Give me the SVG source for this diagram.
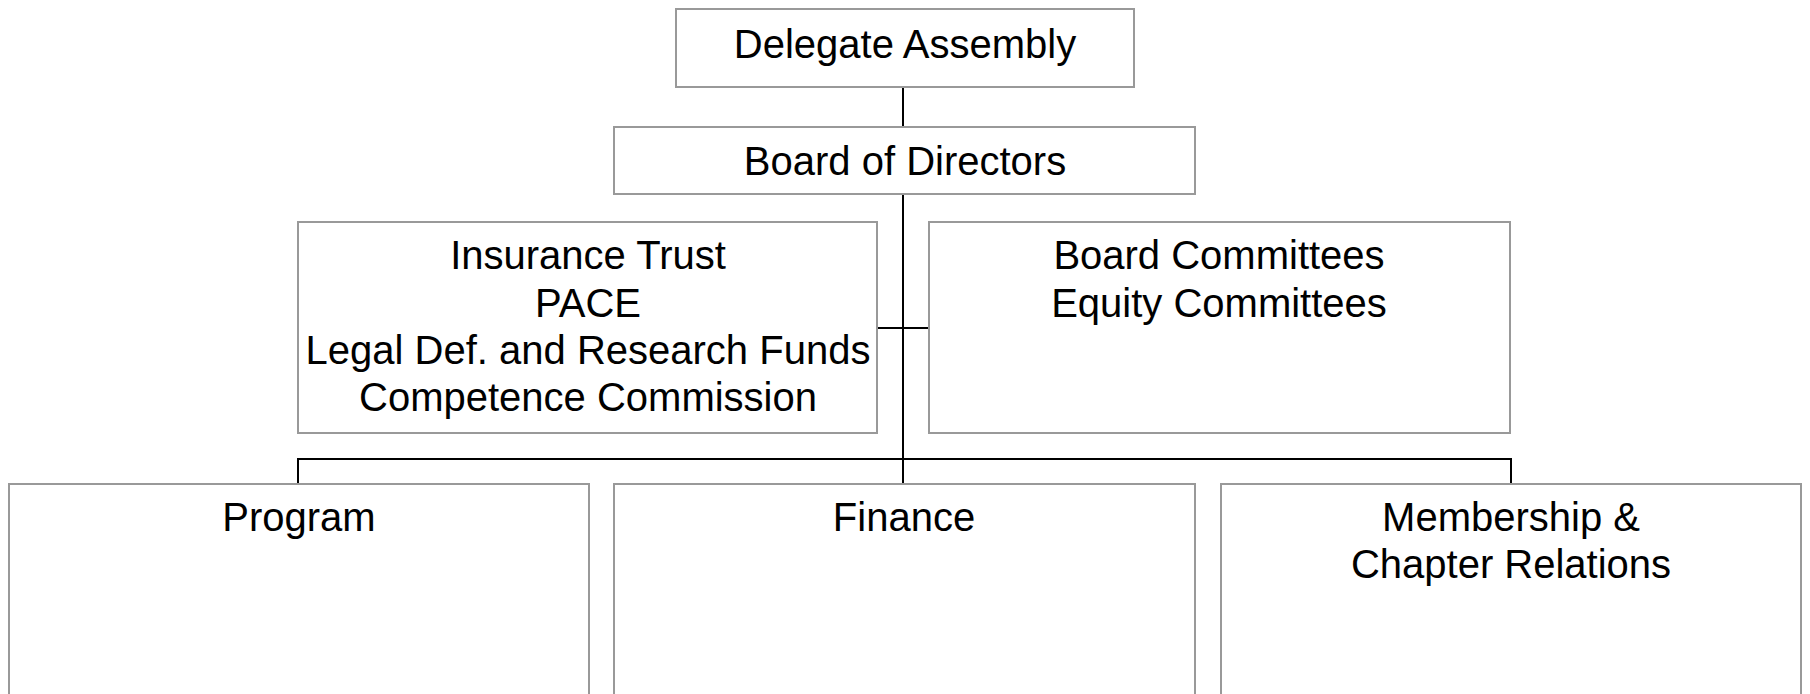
<svg xmlns="http://www.w3.org/2000/svg" width="1810" height="694" viewBox="0 0 1810 694">
<style>
.box{fill:#fff;stroke:#999;stroke-width:2}
.t{font-family:"Liberation Sans",Arial,sans-serif;font-size:40px;fill:#000;text-anchor:middle}
.c{stroke:#000;stroke-width:2;fill:none}
</style>
<rect width="1810" height="694" fill="#fff"/>
<g id="connectors">
<line class="c" x1="903" y1="87" x2="903" y2="484"/>
<line class="c" x1="877" y1="328" x2="929" y2="328"/>
<polyline class="c" points="298,484 298,459 1511,459 1511,484"/>
</g>
<g id="delegate"><rect class="box" x="676" y="9" width="458" height="78"/><text class="t" x="905" y="58">Delegate Assembly</text></g>
<g id="board"><rect class="box" x="614" y="127" width="581" height="67"/><text class="t" x="905" y="175">Board of Directors</text></g>
<g id="trusts"><rect class="box" x="298" y="222" width="579" height="211"/>
<text class="t" x="588" y="269">Insurance Trust</text>
<text class="t" x="588" y="317">PACE</text>
<text class="t" x="588" y="364">Legal Def. and Research Funds</text>
<text class="t" x="588" y="411">Competence Commission</text></g>
<g id="committees"><rect class="box" x="929" y="222" width="581" height="211"/>
<text class="t" x="1219" y="269">Board Committees</text>
<text class="t" x="1219" y="317">Equity Committees</text></g>
<g id="program"><rect class="box" x="9" y="484" width="580" height="230"/><text class="t" x="299" y="531">Program</text></g>
<g id="finance"><rect class="box" x="614" y="484" width="581" height="230"/><text class="t" x="904" y="531">Finance</text></g>
<g id="membership"><rect class="box" x="1221" y="484" width="580" height="230"/>
<text class="t" x="1511" y="531">Membership &amp;</text>
<text class="t" x="1511" y="578">Chapter Relations</text></g>
</svg>
